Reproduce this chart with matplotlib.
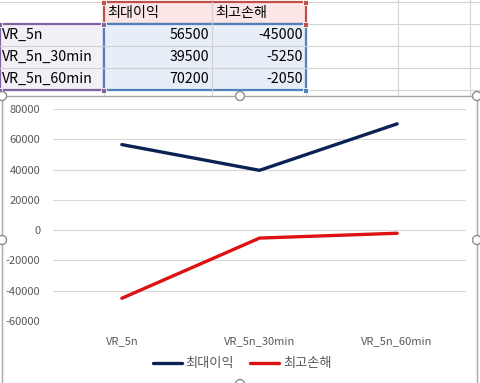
import matplotlib.pyplot as plt
from matplotlib.patches import Rectangle, Circle

plt.rcParams['font.family'] = ['Noto Sans CJK KR', 'DejaVu Sans']

# 데이터
categories = ['VR_5n', 'VR_5n_30min', 'VR_5n_60min']
series_names = ['최대이익', '최고손해']
max_profit = [56500, 39500, 70200]
max_loss = [-45000, -5250, -2050]
y_ticks = [-60000, -40000, -20000, 0, 20000, 40000, 60000, 80000]

W, H = 481, 383
fig = plt.figure(figsize=(W / 100, H / 100), dpi=100)

# 시트 배경 (픽셀 좌표)
bg = fig.add_axes([0, 0, 1, 1])
bg.set_xlim(0, W)
bg.set_ylim(H, 0)
bg.axis('off')

col_x = [0, 104, 212, 306, 398, 470]
row_y = [2, 24, 46, 68, 90]
grid_c = '#d4d4d4'
for x in col_x[1:]:
    bg.plot([x, x], [0, 96], color=grid_c, lw=0.8)
for y in row_y:
    bg.plot([0, W], [y, y], color=grid_c, lw=0.8)

# 범위 채우기
bg.add_patch(Rectangle((104, 2), 202, 22, fc='#fbe5e5', ec='#c0504d', lw=1.6, zorder=3))
bg.add_patch(Rectangle((0, 24), 104, 66, fc='#f3eff7', ec='#8064a2', lw=1.6, zorder=3))
bg.add_patch(Rectangle((104, 24), 202, 66, fc='#e7eef8', ec='#4f81bd', lw=1.6, zorder=3))
bg.plot([212, 212], [2, 90], color='#d0d0d0', lw=0.8, zorder=4)
for y in [46, 68]:
    bg.plot([0, 306], [y, y], color='#d0d0d0', lw=0.8, zorder=4)
for (x, y, c) in [(104, 2, '#c0504d'), (306, 2, '#c0504d'), (104, 24, '#c0504d'),
                  (306, 24, '#c0504d'), (104, 24, '#8064a2'), (104, 90, '#8064a2'),
                  (306, 90, '#4f81bd'), (0, 24, '#8064a2'), (0, 90, '#8064a2')]:
    bg.add_patch(Rectangle((x - 2.5, y - 2.5), 5, 5, fc=c, ec='white', lw=0.6, zorder=5))

cell_font = 10.2
bg.text(107, 13, series_names[0], fontsize=cell_font, va='center', ha='left', zorder=6)
bg.text(215, 13, series_names[1], fontsize=cell_font, va='center', ha='left', zorder=6)
for i, cat in enumerate(categories):
    yc = 35 + 22 * i
    bg.text(2, yc, cat, fontsize=cell_font, va='center', ha='left', zorder=6)
    bg.text(209, yc, str(max_profit[i]), fontsize=cell_font, va='center', ha='right', zorder=6)
    bg.text(303, yc, str(max_loss[i]), fontsize=cell_font, va='center', ha='right', zorder=6)

# 차트 영역
bg.add_patch(Rectangle((2, 96), 475, 300, fc='white', ec='#a6a6a6', lw=1.0, zorder=7))
for (x, y) in [(2, 96), (240, 96), (477, 96), (2, 240), (477, 240), (240, 384)]:
    bg.add_patch(Circle((x, y), 4.5, fc='white', ec='#8c8c8c', lw=1.0, zorder=8))

# 꺾은선 차트
ax = fig.add_axes([53 / W, 1 - 321 / H, 413 / W, 212 / H])
ax.set_zorder(9)
ax.patch.set_alpha(0)
xs = range(len(categories))
ax.plot(xs, max_profit, color='#0c2255', lw=2.4, label=series_names[0],
        solid_capstyle='round')
ax.plot(xs, max_loss, color='#dd1111', lw=2.4, label=series_names[1],
        solid_capstyle='round')
ax.set_xlim(-0.5, 2.5)
ax.set_ylim(-60000, 80000)
ax.set_yticks(y_ticks)
ax.set_yticklabels([str(v) for v in y_ticks])
ax.set_xticks(list(xs))
ax.set_xticklabels(categories)
ax.grid(axis='y', color='#d9d9d9', lw=0.8)
ax.set_axisbelow(True)
for s in ax.spines.values():
    s.set_visible(False)
ax.tick_params(length=0, labelsize=8, colors='#595959', pad=9)
ax.tick_params(axis='x', pad=11)

leg = fig.legend(loc='center', bbox_to_anchor=(242 / W, 1 - 364 / H), ncol=2,
                 frameon=False, fontsize=9.5, handlelength=2.2, columnspacing=1.2,
                 handletextpad=0.3)
for t in leg.get_texts():
    t.set_color('#595959')
leg.set_zorder(10)

fig.savefig('out.png', dpi=100)
